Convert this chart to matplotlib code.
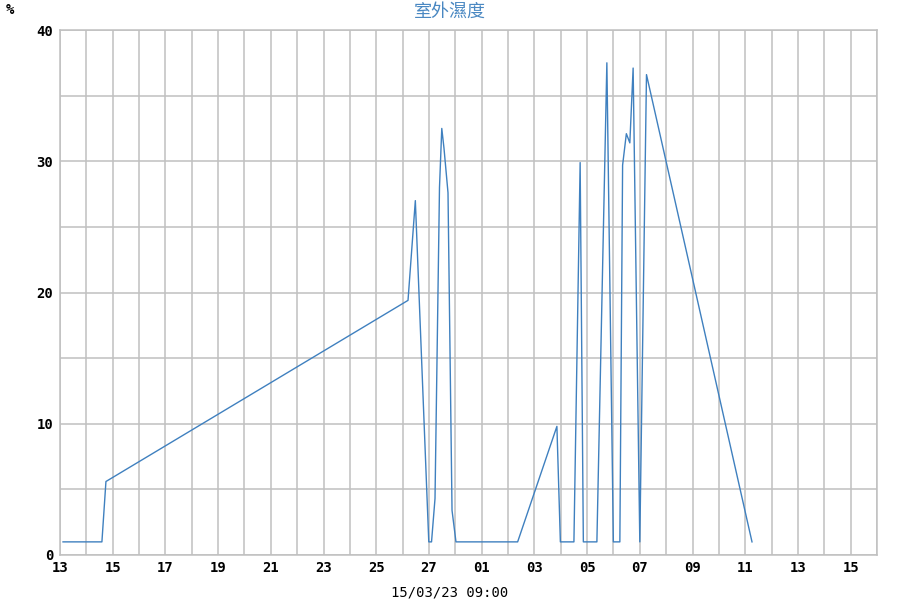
import matplotlib
matplotlib.use("Agg")
import matplotlib.pyplot as plt
import matplotlib.dates as mdates
from matplotlib.ticker import MultipleLocator, FixedLocator
import pandas as pd

# ---- data ----
times = [
    "2023-02-13 02:45", "2023-02-14 14:10", "2023-02-14 17:50", "2023-02-26 04:55",
    "2023-02-26 11:35", "2023-02-26 23:50", "2023-02-27 02:20", "2023-02-27 05:30",
    "2023-02-27 09:35", "2023-02-27 11:40", "2023-02-27 13:40", "2023-02-27 17:20",
    "2023-02-27 21:00", "2023-02-28 00:35", "2023-03-02 08:45", "2023-03-03 20:30",
    "2023-03-03 23:40", "2023-03-04 12:00", "2023-03-04 17:40", "2023-03-04 20:35",
    "2023-03-05 08:55", "2023-03-05 18:00", "2023-03-05 23:55", "2023-03-06 05:50",
    "2023-03-06 08:20", "2023-03-06 11:45", "2023-03-06 14:55", "2023-03-06 17:55",
    "2023-03-07 00:00", "2023-03-07 06:05", "2023-03-11 06:10",
]
humidity = [
    1.0, 1.0, 5.6, 19.4,
    27.0, 1.0, 1.0, 4.3,
    28.0, 32.5, 31.0, 27.6,
    3.4, 1.0, 1.0, 9.8,
    1.0, 1.0, 29.9, 1.0,
    1.0, 37.5, 1.0, 1.0,
    29.7, 32.1, 31.4, 37.1,
    1.0, 36.6, 1.0,
]
title = "室外濕度"
y_unit = "%"
x_caption = "15/03/23 09:00"
x_start, x_end = "2023-02-13", "2023-03-16"
tick_days = pd.date_range("2023-02-13", "2023-03-15", freq="2D")
grid_days = pd.date_range("2023-02-13", "2023-03-16", freq="1D")

t = pd.to_datetime(times)

fig = plt.figure(figsize=(9, 6), dpi=100)
ax = fig.add_axes([60 / 900, 45 / 600, 817 / 900, 525 / 600])

line_color = "#3f80bf"
grid_color = "#c0c0c0"

ax.plot(t, humidity, color=line_color, lw=1.0)

ax.set_xlim(pd.Timestamp(x_start), pd.Timestamp(x_end))
ax.set_ylim(0, 40)

ax.xaxis.set_major_locator(FixedLocator(mdates.date2num(tick_days)))
ax.xaxis.set_minor_locator(FixedLocator(mdates.date2num(grid_days)))
ax.xaxis.set_major_formatter(mdates.DateFormatter("%d"))
ax.yaxis.set_major_locator(MultipleLocator(10))
ax.yaxis.set_minor_locator(MultipleLocator(5))

ax.grid(which="both", color=grid_color, lw=1.1)
ax.set_axisbelow(True)
ax.tick_params(which="both", length=0)
ax.tick_params(axis="x", pad=4)
ax.tick_params(axis="y", pad=5)
for lab in ax.get_xticklabels() + ax.get_yticklabels():
    lab.set_fontfamily("DejaVu Sans Mono")
    lab.set_fontsize(10)
    lab.set_fontweight("bold")
for s in ax.spines.values():
    s.set_color(grid_color)
    s.set_linewidth(1.1)

fig.text(0.5, 1 - 12 / 600, title, ha="center", va="center", color="#4a88c2",
         fontsize=13, family=["Noto Sans CJK TC", "DejaVu Sans"])
fig.text(10 / 900, 1 - 10 / 600, y_unit, ha="center", va="center",
         fontsize=10, family="DejaVu Sans Mono", fontweight="bold")
fig.text(450 / 900, 1 - 592 / 600, x_caption, ha="center", va="center",
         fontsize=10, family="DejaVu Sans Mono")

fig.savefig("out.png", dpi=100)
